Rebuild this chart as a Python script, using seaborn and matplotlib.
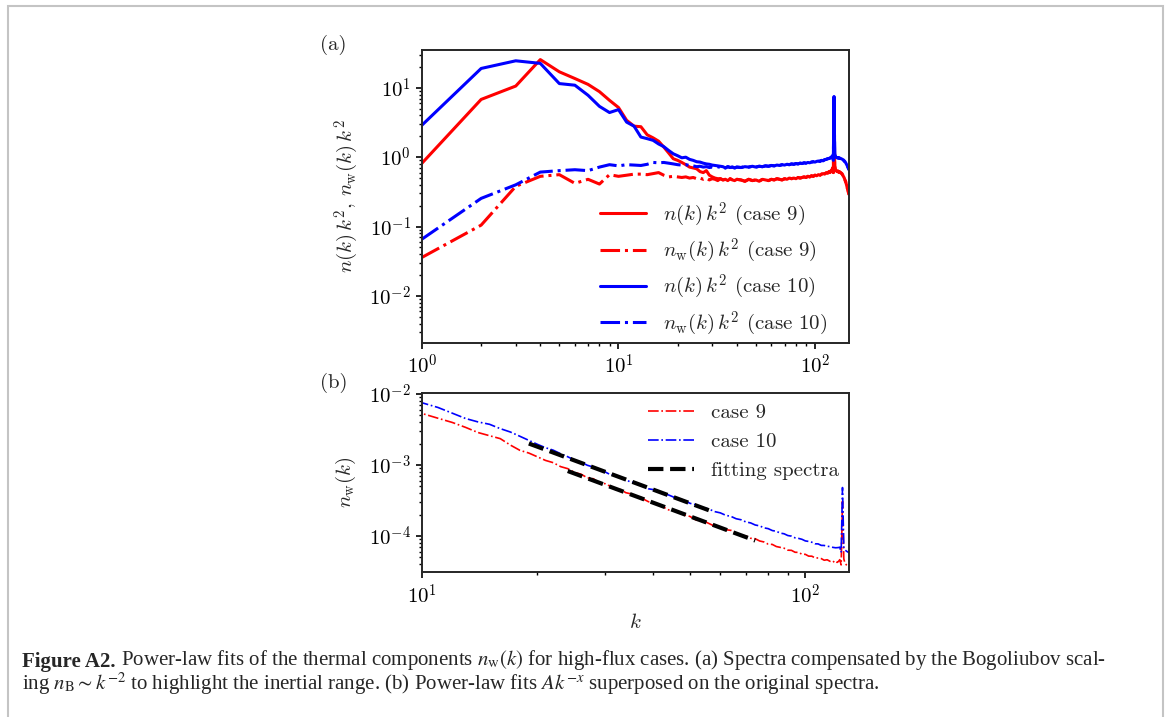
import numpy as np
import matplotlib
matplotlib.use("Agg")
import matplotlib.pyplot as plt
import matplotlib.ticker as mticker
import seaborn as sns
from matplotlib.patches import Rectangle

# wavenumbers k (integer grid, thinned to every 2nd between 42 and 118)
k_vals = list(range(1, 41)) + list(range(42, 119, 2)) + list(range(119, 150))

# n_w(k) k^2, case 9 (thermal part, red dash-dot)
nw9_comp = [0.036, 0.105, 0.38, 0.53, 0.56, 0.42, 0.48, 0.41, 0.56, 0.53,
            0.55, 0.57, 0.57, 0.56, 0.58, 0.60, 0.55, 0.52, 0.53, 0.52,
            0.51, 0.52, 0.50, 0.51, 0.49, 0.50, 0.48, 0.50, 0.47, 0.49,
            0.48, 0.46, 0.49, 0.47, 0.48, 0.46, 0.49, 0.47, 0.46, 0.48,
            0.47, 0.45, 0.48, 0.46, 0.47, 0.45, 0.48, 0.47, 0.46, 0.48,
            0.47, 0.49, 0.48, 0.47, 0.49, 0.48, 0.50, 0.49, 0.50, 0.49,
            0.51, 0.50, 0.51, 0.52, 0.51, 0.53, 0.52, 0.54, 0.53, 0.55,
            0.54, 0.56, 0.55, 0.57, 0.58, 0.57, 0.60, 0.59, 0.62,
            0.60, 0.63, 0.62, 0.65, 0.70, 0.60, 4.8, 0.75, 0.66, 0.64,
            0.63, 0.62, 0.63, 0.61, 0.62, 0.60, 0.60, 0.59, 0.58, 0.56,
            0.54, 0.52, 0.50, 0.47, 0.45, 0.42, 0.39, 0.36, 0.34, 0.31, 0.29]

# n_w(k) k^2, case 10 (blue dash-dot)
nw10_comp = [0.066, 0.255, 0.40, 0.61, 0.64, 0.66, 0.64, 0.72, 0.78, 0.75,
             0.78, 0.77, 0.76, 0.79, 0.84, 0.83, 0.84, 0.82, 0.80, 0.78,
             0.77, 0.78, 0.76, 0.75, 0.73, 0.74, 0.72, 0.73, 0.71, 0.72,
             0.70, 0.73, 0.71, 0.72, 0.70, 0.73, 0.71, 0.72, 0.70, 0.72,
             0.71, 0.73, 0.72, 0.74, 0.72, 0.74, 0.73, 0.75, 0.74, 0.76,
             0.75, 0.77, 0.76, 0.78, 0.77, 0.79, 0.78, 0.80, 0.79, 0.81,
             0.80, 0.82, 0.81, 0.83, 0.82, 0.84, 0.83, 0.85, 0.86, 0.85,
             0.87, 0.88, 0.87, 0.90, 0.89, 0.92, 0.93, 0.95, 0.96,
             0.97, 0.98, 1.00, 1.02, 1.05, 0.90, 7.5, 1.10, 1.02, 1.00,
             0.99, 0.98, 0.99, 0.97, 0.98, 0.96, 0.96, 0.95, 0.94, 0.93,
             0.92, 0.90, 0.88, 0.86, 0.84, 0.81, 0.78, 0.75, 0.72, 0.69, 0.66]

# n(k) k^2 at low k (total spectrum); above this it follows the thermal part
n9_comp_low = [0.82, 6.8, 10.6, 25.5, 17.0, 13.6, 11.2, 8.8, 6.6, 5.2,
               3.4, 2.8, 2.75, 2.1, 1.9, 1.7, 1.4, 1.15, 0.95, 0.90,
               0.84, 0.78, 0.72, 0.70, 0.68, 0.62, 0.60, 0.64, 0.55, 0.52,
               0.50, 0.49]
n10_comp_low = [2.9, 19.0, 24.5, 22.5, 11.5, 10.9, 7.8, 5.4, 4.4, 4.85,
                3.2, 2.8, 1.95, 1.85, 1.75, 1.55, 1.42, 1.25, 1.12, 1.05,
                0.98, 1.00, 0.93, 0.90, 0.86, 0.85, 0.82, 0.80, 0.79, 0.77,
                0.76, 0.75, 0.74, 0.73]

n9_comp = n9_comp_low + nw9_comp[len(n9_comp_low):]
n10_comp = n10_comp_low + nw10_comp[len(n10_comp_low):]

# power-law fits A k^-x (end points)
fit9_k = [24, 74]
fit9_n = [8.2e-4, 8.6e-5]
fit10_k = [19, 56]
fit10_n = [2.0e-3, 2.3e-4]

sns.set_style("ticks")
plt.rcParams["font.family"] = "serif"
plt.rcParams["font.serif"] = ["cmr10"]
plt.rcParams["mathtext.fontset"] = "cm"
plt.rcParams["axes.unicode_minus"] = False
plt.rcParams["axes.formatter.use_mathtext"] = True
plt.rcParams["font.size"] = 15
plt.rcParams["axes.linewidth"] = 1.4
for a in ["xtick", "ytick"]:
    plt.rcParams[a + ".major.size"] = 4.5
    plt.rcParams[a + ".major.width"] = 1.2
    plt.rcParams[a + ".minor.size"] = 2.5
    plt.rcParams[a + ".minor.width"] = 1.0
    plt.rcParams[a + ".color"] = "black"
    plt.rcParams[a + ".labelsize"] = 15


def pow10(v, pos):
    return r"$10^{%d}$" % int(round(np.log10(v)))


k = np.array(k_vals, dtype=float)

fig = plt.figure(figsize=(11.68, 7.17), dpi=100)
ax1 = fig.add_axes([0.3613, 0.5216, 0.3656, 0.4086])
ax2 = fig.add_axes([0.3613, 0.2022, 0.3656, 0.2497])

# (a) compensated spectra
sns.lineplot(x=k, y=n9_comp, ax=ax1, color="red", lw=2.2, estimator=None,
             label=r"$n(k)\,k^2$ (case 9)")
sns.lineplot(x=k, y=nw9_comp, ax=ax1, color="red", lw=2.2, linestyle="-.",
             estimator=None, label=r"$n_\mathrm{w}(k)\,k^2$ (case 9)")
sns.lineplot(x=k, y=n10_comp, ax=ax1, color="blue", lw=2.2, estimator=None,
             label=r"$n(k)\,k^2$ (case 10)")
sns.lineplot(x=k, y=nw10_comp, ax=ax1, color="blue", lw=2.2, linestyle="-.",
             estimator=None, label=r"$n_\mathrm{w}(k)\,k^2$ (case 10)")
ax1.set_xscale("log")
ax1.set_yscale("log")
ax1.set_xlim(1, 149)
ax1.set_ylim(2.1e-3, 35)
ax1.set_ylabel(r"$n(k)\,k^2$, $n_\mathrm{w}(k)\,k^2$")
ax1.yaxis.set_label_coords(-0.142, 0.5)
ax1.legend(loc="lower right", frameon=False, handlelength=2.2,
           labelspacing=0.38, borderaxespad=0, bbox_to_anchor=(0.968, -0.01))

# (b) original spectra with fits
sns.lineplot(x=k, y=np.array(nw9_comp) / k**2, ax=ax2, color="red", lw=1.2,
             linestyle="-.", estimator=None, label="case 9")
sns.lineplot(x=k, y=np.array(nw10_comp) / k**2, ax=ax2, color="blue", lw=1.2,
             linestyle="-.", estimator=None, label="case 10")
sns.lineplot(x=fit9_k, y=fit9_n, ax=ax2, color="black", lw=3, linestyle="--",
             estimator=None, label="fitting spectra")
sns.lineplot(x=fit10_k, y=fit10_n, ax=ax2, color="black", lw=3, linestyle="--",
             estimator=None)
ax2.set_xscale("log")
ax2.set_yscale("log")
ax2.set_xlim(10, 130)
ax2.set_ylim(3.1e-5, 1.03e-2)
ax2.set_xlabel(r"$k$")
ax2.set_ylabel(r"$n_\mathrm{w}(k)$")
ax2.yaxis.set_label_coords(-0.151, 0.5)
ax2.legend(loc="upper right", frameon=False, handlelength=2.2,
           borderaxespad=0.1)

for ax in (ax1, ax2):
    ax.xaxis.set_major_formatter(mticker.FuncFormatter(pow10))
    ax.yaxis.set_major_formatter(mticker.FuncFormatter(pow10))

fig.text(0.274, 0.937, "(a)", va="center", size=15)
fig.text(0.274, 0.466, "(b)", va="center", size=15)

# caption
cap_font = "Liberation Serif"
cap_size = 15.0
t1 = fig.text(22 / 1168, 1 - 667 / 717, "Figure A2.", family=cap_font,
              weight="bold", size=cap_size, va="baseline")
ax2.annotate(" Power-law fits of the thermal components $n_\\mathrm{w}(k)$ for "
             "high-flux cases. (a) Spectra compensated by the Bogoliubov scal-",
             xy=(1, 0), xycoords=t1, va="bottom", ha="left", family=cap_font,
             size=cap_size, math_fontfamily="stix", annotation_clip=False)
fig.text(22 / 1168, 1 - 690 / 717,
         "ing $n_\\mathrm{B}\\sim k^{-2}$ to highlight the inertial range. (b) "
         "Power-law fits $Ak^{-x}$ superposed on the original spectra.",
         family=cap_font, size=cap_size, va="baseline", math_fontfamily="stix")

fig.add_artist(Rectangle((8 / 1168, -0.05), 1155 / 1168, 1.05 - 6 / 717,
                         transform=fig.transFigure, fill=False,
                         edgecolor="#c4c4c4", lw=1.5, clip_on=False))

fig.savefig("out.png", dpi=100)
